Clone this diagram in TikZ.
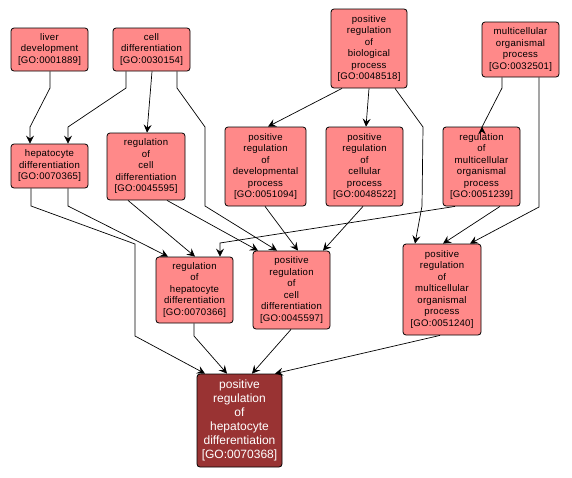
\documentclass[tikz,border=0pt]{standalone}
\usepackage{fontspec}
\setmainfont{Liberation Sans}
\newfontfamily\nodefont[LetterSpace=2.5]{Liberation Sans}
\usetikzlibrary{arrows.meta}
\definecolor{nodefill}{RGB}{255,137,137}
\definecolor{mainfill}{RGB}{153,51,51}
\tikzset{
  goterm/.style={draw=black, fill=nodefill, rounded corners=3pt, line width=0.8pt,
    inner sep=0pt, align=center, font=\nodefont\fontsize{9.6}{11.5}\selectfont, text=black},
  mainterm/.style={goterm, fill=mainfill, text=white, font=\fontsize{12}{14}\selectfont},
  edge/.style={draw=black, line width=0.7pt, -{Stealth[length=8pt, width=8pt, inset=3pt]}}
}
\begin{document}
\begin{tikzpicture}[x=1pt, y=-1pt]
\useasboundingbox (0,0) rectangle (572,477);
\fill[white] (0,0) rectangle (572,477);
% nodes
\node[goterm, minimum width=77pt, minimum height=43pt] (A) at (49.5,49.5) {liver\\development\\{[GO:0001889]}};
\node[goterm, minimum width=77pt, minimum height=43pt] (B) at (151.5,49.5) {cell\\differentiation\\{[GO:0030154]}};
\node[goterm, minimum width=76pt, minimum height=79pt] (C) at (369,48.5) {positive\\regulation\\of\\biological\\process\\{[GO:0048518]}};
\node[goterm, minimum width=77pt, minimum height=55pt] (D) at (520.5,49.5) {multicellular\\organismal\\process\\{[GO:0032501]}};
\node[goterm, minimum width=77pt, minimum height=44pt] (E) at (49.5,166) {hepatocyte\\differentiation\\{[GO:0070365]}};
\node[goterm, minimum width=78pt, minimum height=67pt] (F) at (146,166.5) {regulation\\of\\cell\\differentiation\\{[GO:0045595]}};
\node[goterm, minimum width=81pt, minimum height=79pt] (G) at (265.5,166.5) {positive\\regulation\\of\\developmental\\process\\{[GO:0051094]}};
\node[goterm, minimum width=77pt, minimum height=79pt] (H) at (364.5,166.5) {positive\\regulation\\of\\cellular\\process\\{[GO:0048522]}};
\node[goterm, minimum width=77pt, minimum height=79pt] (I) at (481.5,166.5) {regulation\\of\\multicellular\\organismal\\process\\{[GO:0051239]}};
\node[goterm, minimum width=77pt, minimum height=66pt] (J) at (194.5,290) {regulation\\of\\hepatocyte\\differentiation\\{[GO:0070366]}};
\node[goterm, minimum width=77pt, minimum height=78pt] (K) at (291.5,290) {positive\\regulation\\of\\cell\\differentiation\\{[GO:0045597]}};
\node[goterm, minimum width=78pt, minimum height=91pt] (L) at (442,289.5) {positive\\regulation\\of\\multicellular\\organismal\\process\\{[GO:0051240]}};
\node[mainterm, minimum width=85pt, minimum height=93pt] (M) at (239.5,420.5) {positive\\regulation\\of\\hepatocyte\\differentiation\\{[GO:0070368]}};
% edges
\draw[edge] ([xshift=0.5pt]A.south) -- (50,88) -- (30,127) -- ([xshift=-19.5pt]E.north);
\draw[edge] ([xshift=-25.5pt]B.south) -- (126,88) -- (68,127) -- ([xshift=18.5pt]E.north);
\draw[edge] ([xshift=0.5pt]B.south) -- ([xshift=1pt]F.north);
\draw[edge] ([xshift=25.5pt]B.south) -- (177,88) -- (205,127) -- (205,206) -- ([xshift=-14.5pt]K.north);
\draw[edge] ([xshift=-27pt]C.south) -- ([xshift=2.5pt]G.north);
\draw[edge] (C.south) -- ([xshift=1.5pt]H.north);
\draw[edge] ([xshift=26pt]C.south) -- (423,127) -- (422,206) -- ([xshift=-27pt]L.north);
\draw[edge] ([xshift=-18.5pt]D.south) -- (502,88) -- (482,127) -- ([xshift=0.5pt]I.north);
\draw[edge] ([xshift=18.5pt]D.south) -- (539,207) -- ([xshift=28pt]L.north);
\draw[edge] ([xshift=18.5pt]E.south) -- (68,206) -- ([xshift=-26.5pt]J.north);
\draw[edge] ([xshift=-18.5pt]E.south) -- (31,206) -- (135,244) -- (135,336) -- ([xshift=-34.5pt]M.north);
\draw[edge] ([xshift=-18pt]F.south) -- ([xshift=0.5pt]J.north);
\draw[edge] ([xshift=21pt]F.south) -- ([xshift=-33.5pt]K.north);
\draw[edge] ([xshift=-0.5pt]G.south) -- ([xshift=6.5pt]K.north);
\draw[edge] ([xshift=-1.5pt]H.south) -- ([xshift=31.5pt]K.north);
\draw[edge] ([xshift=-26.5pt]I.south) -- (220,243) -- ([xshift=25.5pt]J.north);
\draw[edge] ([xshift=18.5pt]I.south) -- ([xshift=1pt]L.north);
\draw[edge] ([xshift=-0.5pt]J.south) -- (194,336) -- ([xshift=-12.5pt]M.north);
\draw[edge] ([xshift=-0.5pt]K.south) -- ([xshift=12.5pt]M.north);
\draw[edge] ([xshift=-2pt]L.south) -- ([xshift=35.5pt]M.north);
\end{tikzpicture}
\end{document}
